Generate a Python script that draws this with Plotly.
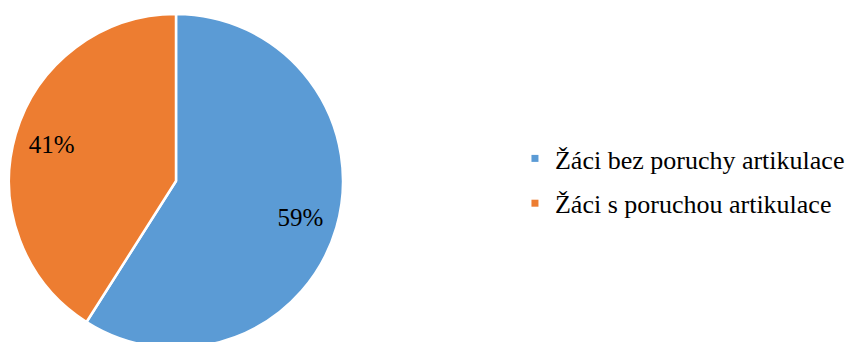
import plotly.graph_objects as go

labels = ["Žáci bez poruchy artikulace", "Žáci s poruchou artikulace"]
values = [59, 41]
colors = ["#5B9BD5", "#ED7D31"]

SERIF = "Liberation Serif"
W, H = 854, 350
dom = dict(x=[9 / W, 343 / W], y=[1 - 348 / H, 1 - 14 / H])
common = dict(labels=labels, values=values, sort=False, direction="clockwise", rotation=0,
              domain=dom, showlegend=False)
fig = go.Figure()
fig.add_trace(go.Pie(textinfo="none", hoverinfo="skip",
                     marker=dict(colors=colors, line=dict(color="white", width=2.5)), **common))
fig.add_trace(go.Pie(
    hole=0.55, textinfo="percent", textposition="inside", insidetextorientation="horizontal",
    texttemplate="%{percent:.0%}",
    marker=dict(colors=["rgba(0,0,0,0)"] * 2, line=dict(color="rgba(0,0,0,0)", width=2.5)),
    textfont=dict(family=SERIF, size=25, color="black"), hoverinfo="label+percent",
    **common,
))
for lab, col in zip(labels, colors):
    fig.add_trace(go.Scatter(
        x=[None], y=[None], mode="markers", name=lab, legendgroup=lab,
        marker=dict(symbol="square", size=7, color=col),
    ))
fig.update_layout(
    template="none",
    font=dict(family=SERIF, size=26, color="black"),
    width=W, height=H, margin=dict(l=0, r=0, t=0, b=0),
    paper_bgcolor="white", plot_bgcolor="white",
    xaxis=dict(visible=False), yaxis=dict(visible=False),
    showlegend=True,
    legend=dict(x=0.603, y=1 - 181 / H, xanchor="left", yanchor="middle",
                font=dict(family=SERIF, size=26, color="black"),
                tracegroupgap=8, bgcolor="rgba(0,0,0,0)"),
)
fig.write_html("out.html", post_script="document.body.style.overflow='hidden';document.body.style.margin='0';")
